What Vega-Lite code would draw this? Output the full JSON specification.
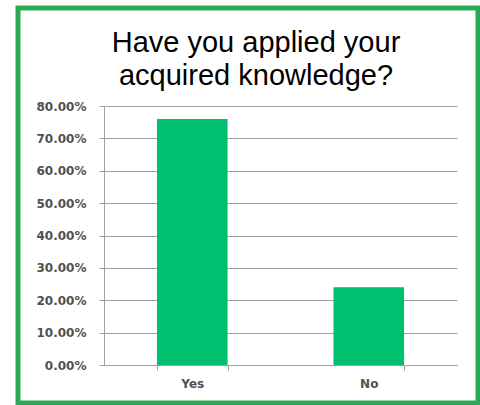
{
  "$schema": "https://vega.github.io/schema/vega-lite/v6.json",
  "autosize": {"type": "none"},
  "width": 460,
  "height": 395,
  "padding": {"left": 18, "top": 8, "right": 2, "bottom": 2},
  "background": "white",
  "title": {
    "text": ["Have you applied your", "acquired knowledge?"],
    "font": "Liberation Sans",
    "fontSize": 29,
    "fontWeight": "normal",
    "lineHeight": 33,
    "color": "#000000",
    "anchor": "middle",
    "dx": 8,
    "offset": -83
  },
  "data": {
    "values": [
      {"answer": "Yes", "share": 0.76},
      {"answer": "No", "share": 0.24}
    ]
  },
  "mark": {"type": "bar", "color": "#00bf6f"},
  "encoding": {
    "x": {
      "field": "answer",
      "type": "nominal",
      "sort": ["Yes", "No"],
      "scale": {"range": [86, 439], "paddingInner": 0.6, "paddingOuter": 0.3},
      "axis": {
        "title": null,
        "offset": -38,
        "labelAngle": 0,
        "tickBand": "extent",
        "tickSize": 5,
        "tickColor": "#a0a0a0",
        "domainColor": "#a0a0a0",
        "labelFont": "DejaVu Sans",
        "labelFontSize": 12,
        "labelFontWeight": "bold",
        "labelColor": "#505050",
        "labelPadding": 8
      }
    },
    "y": {
      "field": "share",
      "type": "quantitative",
      "scale": {"domain": [0, 0.8], "range": [357, 98], "nice": false},
      "axis": {
        "title": null,
        "offset": -86,
        "values": [0, 0.1, 0.2, 0.3, 0.4, 0.5, 0.6, 0.7, 0.8],
        "format": ".2%",
        "tickSize": 5,
        "tickColor": "#a0a0a0",
        "domainColor": "#a0a0a0",
        "gridColor": "#a0a0a0",
        "grid": true,
        "labelFont": "DejaVu Sans",
        "labelFontSize": 12,
        "labelFontWeight": "bold",
        "labelColor": "#505050",
        "labelPadding": 13
      }
    }
  },
  "config": {
    "view": {"stroke": "#2aa852", "strokeWidth": 5, "fill": "white"}
  }
}
